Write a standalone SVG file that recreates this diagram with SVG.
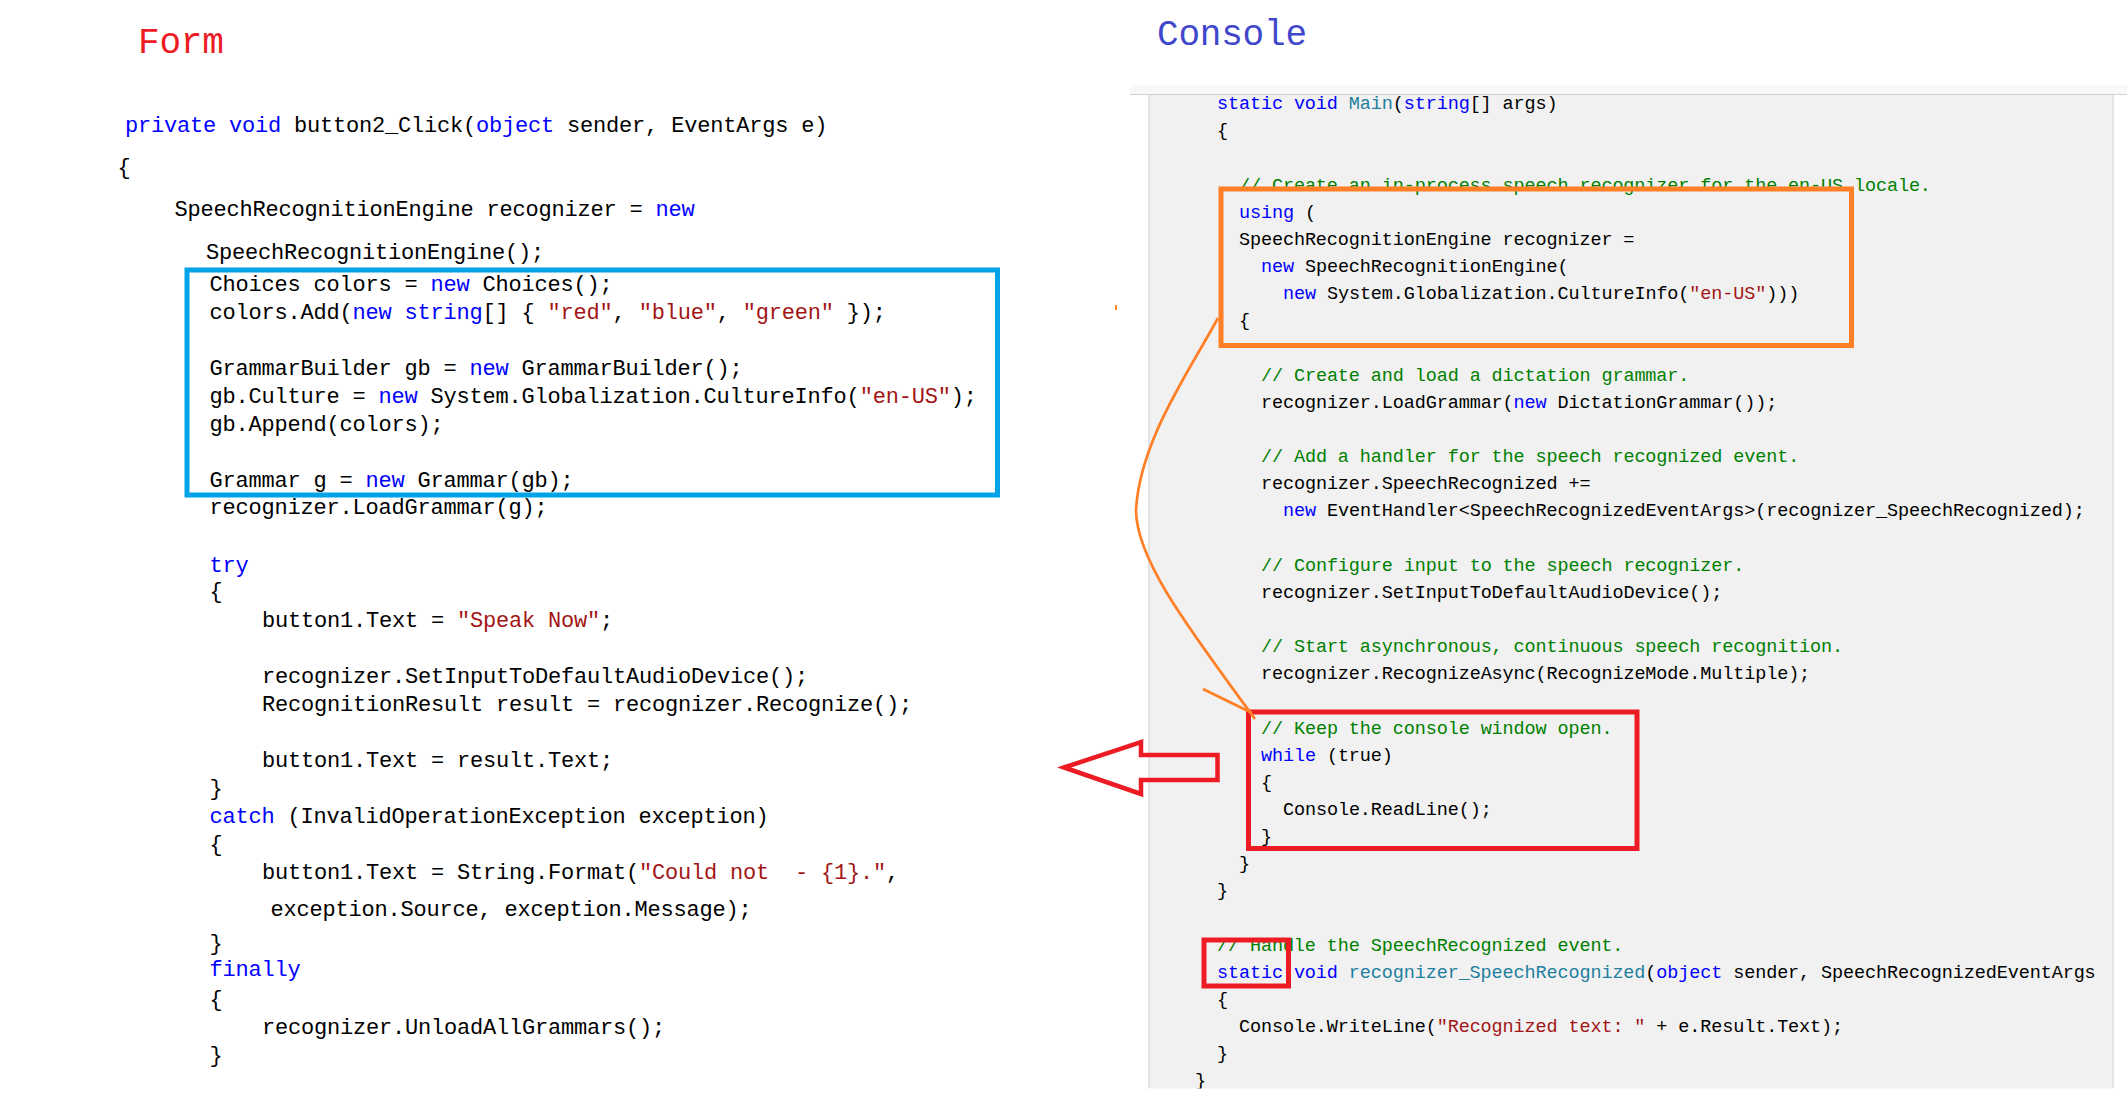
<svg xmlns="http://www.w3.org/2000/svg" width="2127" height="1100" viewBox="0 0 2127 1100">
<style>
.code{font-family:"Liberation Mono","DejaVu Sans Mono",monospace;white-space:pre}
.l{font-size:22px;letter-spacing:-0.2px;fill:#000}
.r{font-size:18.5px;letter-spacing:-0.12px;fill:#000}
.title{font-family:"Liberation Mono","DejaVu Sans Mono",monospace;font-size:36px;letter-spacing:-0.2px}
.k{fill:#0000ff}
.s{fill:#a31515}
.c{fill:#008000}
.t{fill:#1f7f9f}
.hl{fill:none;stroke-width:5}
</style>
<defs>
<clipPath id="panelClip"><rect x="1100" y="0" width="1027" height="1088.5"/></clipPath>
</defs>
<rect x="0" y="0" width="2127" height="1100" fill="#ffffff"/>

<g id="title-form"><text class="title" x="138" y="52.6" fill="#ed1c24">Form</text></g>
<g id="title-console"><text class="title" x="1157" y="45" fill="#3f48cc">Console</text></g>

<g id="console-panel">
<rect x="1130" y="85" width="997" height="10" fill="#f8f8f8"/>
<rect x="1150" y="95" width="962" height="993.5" fill="#f1f1f1"/>
<rect x="1148" y="95" width="2" height="993.5" fill="#e4e4e4"/>
<rect x="2112" y="95" width="2" height="993.5" fill="#e6e6e6"/>
<line x1="1130" y1="94.5" x2="2127" y2="94.5" stroke="#d2d2d2" stroke-width="1.2"/>
</g>

<g id="form-code" class="code l">
<text x="125" y="131.6"><tspan class="k">private</tspan> <tspan class="k">void</tspan> button2_Click(<tspan class="k">object</tspan> sender, EventArgs e)</text>
<text x="117.5" y="174">{</text>
<text x="174.5" y="215.8">SpeechRecognitionEngine recognizer = <tspan class="k">new</tspan></text>
<text x="206" y="259">SpeechRecognitionEngine();</text>
<text x="209.5" y="291">Choices colors = <tspan class="k">new</tspan> Choices();</text>
<text x="209.5" y="319">colors.Add(<tspan class="k">new</tspan> <tspan class="k">string</tspan>[] { <tspan class="s">"red"</tspan>, <tspan class="s">"blue"</tspan>, <tspan class="s">"green"</tspan> });</text>
<text x="209.5" y="374.7">GrammarBuilder gb = <tspan class="k">new</tspan> GrammarBuilder();</text>
<text x="209.5" y="402.5">gb.Culture = <tspan class="k">new</tspan> System.Globalization.CultureInfo(<tspan class="s">"en-US"</tspan>);</text>
<text x="209.5" y="431">gb.Append(colors);</text>
<text x="209.5" y="487">Grammar g = <tspan class="k">new</tspan> Grammar(gb);</text>
<text x="209.5" y="514">recognizer.LoadGrammar(g);</text>
<text x="209.5" y="571.8" class="k">try</text>
<text x="209.5" y="598">{</text>
<text x="262" y="626.5">button1.Text = <tspan class="s">"Speak Now"</tspan>;</text>
<text x="262" y="683">recognizer.SetInputToDefaultAudioDevice();</text>
<text x="262" y="711.4">RecognitionResult result = recognizer.Recognize();</text>
<text x="262" y="766.5">button1.Text = result.Text;</text>
<text x="209.5" y="795">}</text>
<text x="209.5" y="822.6"><tspan class="k">catch</tspan> (InvalidOperationException exception)</text>
<text x="209.5" y="851">{</text>
<text x="262" y="878.8" xml:space="preserve">button1.Text = String.Format(<tspan class="s">"Could not  - {1}."</tspan>,</text>
<text x="270.5" y="915.6">exception.Source, exception.Message);</text>
<text x="209.5" y="949.5">}</text>
<text x="209.5" y="976.3" class="k">finally</text>
<text x="209.5" y="1005.5">{</text>
<text x="262" y="1033.5">recognizer.UnloadAllGrammars();</text>
<text x="209.5" y="1061.5">}</text>
</g>

<g id="console-code" class="code r" clip-path="url(#panelClip)">
<text x="1217" y="109.3"><tspan class="k">static</tspan> <tspan class="k">void</tspan> <tspan class="t">Main</tspan>(<tspan class="k">string</tspan>[] args)</text>
<text x="1217" y="136.4">{</text>
<text x="1239" y="190.7" class="c">// Create an in-process speech recognizer for the en-US locale.</text>
<text x="1239" y="217.9"><tspan class="k">using</tspan> (</text>
<text x="1239" y="245">SpeechRecognitionEngine recognizer =</text>
<text x="1261" y="272.1"><tspan class="k">new</tspan> SpeechRecognitionEngine(</text>
<text x="1283" y="299.3"><tspan class="k">new</tspan> System.Globalization.CultureInfo(<tspan class="s">"en-US"</tspan>)))</text>
<text x="1239" y="326.4">{</text>
<text x="1261" y="380.7" class="c">// Create and load a dictation grammar.</text>
<text x="1261" y="407.8">recognizer.LoadGrammar(<tspan class="k">new</tspan> DictationGrammar());</text>
<text x="1261" y="462.1" class="c">// Add a handler for the speech recognized event.</text>
<text x="1261" y="489.3">recognizer.SpeechRecognized +=</text>
<text x="1283" y="516.4"><tspan class="k">new</tspan> EventHandler&lt;SpeechRecognizedEventArgs&gt;(recognizer_SpeechRecognized);</text>
<text x="1261" y="570.7" class="c">// Configure input to the speech recognizer.</text>
<text x="1261" y="597.8">recognizer.SetInputToDefaultAudioDevice();</text>
<text x="1261" y="652.1" class="c">// Start asynchronous, continuous speech recognition.</text>
<text x="1261" y="679.2">recognizer.RecognizeAsync(RecognizeMode.Multiple);</text>
<text x="1261" y="733.5" class="c">// Keep the console window open.</text>
<text x="1261" y="760.7"><tspan class="k">while</tspan> (true)</text>
<text x="1261" y="787.8">{</text>
<text x="1283" y="814.9">Console.ReadLine();</text>
<text x="1261" y="842.1">}</text>
<text x="1239" y="869.2">}</text>
<text x="1217" y="896.4">}</text>
<text x="1217" y="950.6" class="c">// Handle the SpeechRecognized event.</text>
<text x="1217" y="977.8"><tspan class="k">static</tspan> <tspan class="k">void</tspan> <tspan class="t">recognizer_SpeechRecognized</tspan>(<tspan class="k">object</tspan> sender, SpeechRecognizedEventArgs</text>
<text x="1217" y="1004.9">{</text>
<text x="1239" y="1032.1">Console.WriteLine(<tspan class="s">"Recognized text: "</tspan> + e.Result.Text);</text>
<text x="1217" y="1059.2">}</text>
<text x="1195" y="1086.3">}</text>
</g>

<g id="box-blue"><rect class="hl" x="187" y="270" width="810.5" height="225" stroke="#00a2e8"/></g>
<g id="box-orange"><rect class="hl" x="1221" y="189" width="630.5" height="156.5" stroke="#ff7f27"/></g>
<g id="box-red-loop"><rect class="hl" x="1248.5" y="712" width="388.5" height="136.5" stroke="#ed1c24" stroke-width="4.5"/></g>
<g id="box-red-static"><rect class="hl" x="1204" y="940" width="84.5" height="46" stroke="#ed1c24"/></g>

<g id="connectors">
<path d="M1218,318 C1190,370 1140,440 1136,510 C1136,560 1190,630 1255,719" fill="none" stroke="#ff7f27" stroke-width="2.7"/>
<line x1="1203" y1="689" x2="1252" y2="713" stroke="#ff7f27" stroke-width="2.7"/>
<rect x="1115" y="305" width="2" height="5" fill="#ff7f27"/>
<polygon points="1064,767.5 1141,742 1141,755 1217.5,755 1217.5,780 1141,780 1141,794" fill="none" stroke="#ed1c24" stroke-width="4.5" stroke-linejoin="miter"/>
</g>
</svg>
